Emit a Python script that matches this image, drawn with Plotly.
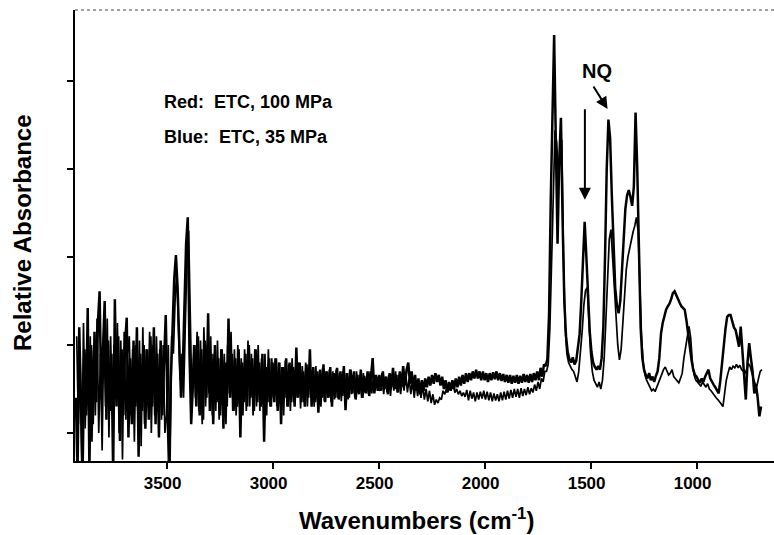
import plotly.graph_objects as go

# Spectra sampled every 8 cm-1; each region starts at the given wavenumber
STEP = 8
region_starts_a = [3928, 3504, 3368, 2992, 2496, 1712]
region_starts_b = [3924, 3500, 3364, 2988, 2492, 1708]

# Trace A (heavier line)
a_r1 = [40, -45, 120, 30, -45, 95, 20, 142, -40, 100,
        10, 115, 35, 125, 161, 40, 110, 150, 15, 105,
        25, 90, -45, 152, 30, 110, -9, 95, 20, 100,
        131, -5, 85, 10, 105, 30, 120, -27, 90, 25,
        100, 5, 95, 15, 110, 30, 120, 10, 90, -5,
        105, 20, 80]
a_r2 = [134, 30, -45, 60, 130, 175, 202, 165, 100, 40, 70, 150, 215, 245, 90, 10, 60]
a_r3 = [100, 30, 110, 20, 95, 15, 105, 40, 136, 25,
        90, 10, 100, 35, 85, 20, 95, 5, 80, 30,
        130, 40, 90, 25, 85, 30, 95, -5, 80, 35,
        90, 30, 100, 40, 85, 25, 95, 35, 80, 30,
        90, -10, 75, 35, 85, 30, 80]
a_r4 = [35, 85, 25, 80, 10, 75, 40, 85, 30, 80,
        35, 75, 30, 97, 40, 80, 35, 70, 30, 78,
        40, 95, 30, 75, 35, 70, 23, 72, 40, 78,
        35, 70, 40, 75, 30, 68, 40, 74, 38, 70,
        42, 76, 26, 68, 40, 72, 45, 70, 38, 66,
        44, 72, 40, 65, 45, 70, 42, 68, 85, 45,
        66, 48]
a_r5 = [66, 48, 70, 50, 64, 44, 68, 52, 74, 50,
        66, 46, 70, 52, 76, 54, 72, 80, 56, 70,
        50, 66, 48, 62, 44, 60, 48, 62, 52, 64,
        54, 66, 56, 68, 58, 66, 54, 64, 50, 60,
        46, 58, 48, 60, 50, 62, 52, 64, 54, 66,
        56, 68, 58, 68, 60, 70, 62, 72, 62, 70,
        60, 70, 60, 68, 58, 68, 60, 69, 61, 70,
        60, 68, 59, 67, 58, 66, 57, 66, 56, 65,
        57, 66, 56, 65, 57, 67, 58, 66, 57, 67,
        58, 68, 60, 70, 60, 74, 64, 78]
a_r6 = [76, 84, 135, 265, 380, 452, 330, 215, 310, 358,
        240, 150, 110, 92, 84, 80, 86, 78, 82, 95,
        112, 150, 205, 240, 200, 150, 115, 92, 80, 75,
        72, 76, 72, 85, 120, 200, 300, 356, 335, 270,
        205, 165, 145, 136, 150, 185, 225, 255, 270, 276,
        268, 258, 280, 364, 300, 200, 120, 85, 72, 66,
        62, 68, 60, 64, 58, 65, 70, 85, 113, 125,
        133, 140, 144, 147, 152, 159, 161, 156, 151, 148,
        144, 142, 140, 128, 109, 98, 83, 72, 66, 64,
        60, 57, 62, 58, 64, 68, 72, 62, 58, 55,
        52, 48, 45, 60, 80, 102, 118, 132, 134, 134,
        128, 120, 117, 105, 98, 121, 95, 60, 38, 80,
        102, 85, 70, 45, 55, 40, 19, 30]

# Trace B (lighter line)
b_r1 = [110, 10, 85, -40, 125, 5, 90, 30, 110, -10,
        95, 20, 130, 0, 90, -20, 120, 30, 130, -5,
        110, 20, 100, 40, 125, 0, 105, -30, 115, 15,
        90, 110, 20, 95, -10, 100, 25, 105, -15, 120,
        10, 95, 30, 115, 0, 100, 20, 110, 35, 95,
        15, 100, 0]
b_r2 = [20, 100, -40, 110, 90, 150, 185, 120, 60, 90, 40, 120, 195, 230, 130, 30, 100]
b_r3 = [40, 115, 25, 105, 10, 120, 30, 95, 45, 110,
        20, 90, 25, 105, 15, 95, 35, 90, 10, 100,
        45, 115, 25, 95, 20, 100, 35, 85, 20, 95,
        25, 105, 30, 90, 20, 95, 30, 100, 25, 85,
        35, 90, 20, 95, 30, 85, 40]
b_r4 = [85, 30, 80, 35, 75, 20, 82, 30, 78, 25,
        85, 35, 72, 40, 80, 28, 76, 35, 80, 30,
        74, 40, 72, 30, 76, 38, 70, 30, 74, 36,
        70, 40, 72, 35, 70, 38, 72, 40, 68, 36,
        70, 42, 68, 38, 72, 44, 66, 40, 70, 45,
        66, 40, 68, 46, 64, 44, 70, 45, 66, 48,
        64, 50]
b_r5 = [48, 68, 44, 64, 46, 66, 42, 64, 48, 70,
        46, 66, 44, 64, 48, 68, 46, 62, 44, 60,
        40, 58, 42, 56, 40, 54, 38, 50, 36, 48,
        34, 44, 32, 38, 34, 40, 38, 48, 44, 50,
        48, 52, 50, 54, 46, 50, 44, 48, 42, 46,
        41, 49, 37, 48, 39, 46, 36, 46, 38, 47,
        39, 48, 38, 47, 37, 46, 36, 45, 37, 44,
        36, 46, 37, 47, 38, 48, 39, 49, 40, 50,
        41, 50, 40, 51, 42, 50, 43, 52, 44, 51,
        46, 55, 48, 58, 50, 62, 58, 70]
b_r6 = [70, 78, 120, 200, 290, 344, 330, 290, 315, 333,
        200, 120, 90, 80, 76, 72, 70, 64, 58, 70,
        90, 115, 145, 162, 165, 125, 90, 70, 60, 56,
        52, 58, 50, 60, 85, 128, 180, 220, 231, 200,
        166, 130, 100, 83, 95, 125, 160, 185, 200, 210,
        220, 228, 235, 245, 230, 170, 110, 80, 66, 60,
        55, 52, 48, 50, 47, 52, 58, 62, 68, 72,
        75, 70, 66, 68, 72, 64, 62, 60, 57, 62,
        68, 85, 98, 112, 121, 108, 80, 66, 60, 58,
        55, 53, 58, 55, 52, 56, 50, 48, 45, 42,
        40, 38, 36, 33, 30, 45, 60, 68, 75, 72,
        76, 74, 78, 74, 77, 72, 70, 68, 72, 79,
        76, 68, 62, 56, 53, 62, 70, 72]

tick_vals = [3500, 3000, 2500, 2000, 1500, 1000]
tick_text = ["3500", "3000", "2500", "2000", "1500", "1000"]
y_ticks = [0, 100, 200, 300, 400]


def build(starts, regions):
    xs, ys = [], []
    for start, vals in zip(starts, regions):
        xs += [start - STEP * i for i in range(len(vals))]
        ys += vals
    return xs, ys


xa, ya = build(region_starts_a, [a_r1, a_r2, a_r3, a_r4, a_r5, a_r6])
xb, yb = build(region_starts_b, [b_r1, b_r2, b_r3, b_r4, b_r5, b_r6])

FONT = "Liberation Sans, Arial, Helvetica, sans-serif"

fig = go.Figure()
fig.add_trace(go.Scatter(x=xb, y=yb, mode="lines", line=dict(color="black", width=1.7),
                         hoverinfo="skip", name="Blue: ETC, 35 MPa"))
fig.add_trace(go.Scatter(x=xa, y=ya, mode="lines", line=dict(color="black", width=2.5),
                         hoverinfo="skip", name="Red: ETC, 100 MPa"))

fig.update_layout(
    width=774, height=535,
    margin=dict(l=75, r=0, t=10, b=74),
    paper_bgcolor="white", plot_bgcolor="white",
    showlegend=False,
    font=dict(family=FONT, color="black"),
    xaxis=dict(range=[3932, 635], showline=True, linecolor="black", linewidth=2,
               ticks="outside", ticklen=6, tickwidth=2, tickcolor="black",
               tickvals=tick_vals, ticktext=tick_text, ticklabelshift=4,
               tickfont=dict(size=17, family=FONT, weight="bold", color="black"),
               showgrid=False, zeroline=False),
    yaxis=dict(range=[-31.8, 480.5], showline=True, linecolor="black", linewidth=1.5,
               ticks="outside", ticklen=6, tickwidth=1.5, tickcolor="black",
               tickvals=y_ticks, showticklabels=False,
               showgrid=False, zeroline=False),
    shapes=[dict(type="line", xref="paper", yref="paper", x0=0, x1=1, y0=1, y1=1,
                 line=dict(color="#444", width=1, dash="dot"))],
)

bold = dict(family=FONT, weight="bold", color="black")
fig.add_annotation(x=3522, y=376, xref="x", yref="y", text="Red:\u00a0 ETC, 100 MPa",
                   showarrow=False, xanchor="left", yanchor="middle", font=dict(size=18, **bold))
fig.add_annotation(x=3522, y=336, xref="x", yref="y", text="Blue:\u00a0 ETC, 35 MPa",
                   showarrow=False, xanchor="left", yanchor="middle", font=dict(size=18, **bold))
fig.add_annotation(x=1470, y=411, xref="x", yref="y", text="NQ",
                   showarrow=False, xanchor="center", yanchor="middle", font=dict(size=20, **bold))
fig.add_annotation(x=1527, y=265, xref="x", yref="y", text="", showarrow=True,
                   ax=0, ay=-92, arrowhead=2, arrowsize=1.2, arrowwidth=2, arrowcolor="black")
fig.add_annotation(x=1420, y=368, xref="x", yref="y", text="", showarrow=True,
                   ax=-15, ay=-24, arrowhead=2, arrowsize=1.2, arrowwidth=2, arrowcolor="black")
fig.add_annotation(x=0.489, y=-0.1286, xref="paper", yref="paper",
                   text="Wavenumbers (cm<sup>-1</sup>)", showarrow=False,
                   xanchor="center", yanchor="middle", font=dict(size=24, **bold))
fig.add_annotation(x=-0.0758, y=0.5055, xref="paper", yref="paper",
                   text="Relative Absorbance", textangle=-90, showarrow=False,
                   xanchor="center", yanchor="middle", font=dict(size=24, **bold))

fig.write_html("out.html")
